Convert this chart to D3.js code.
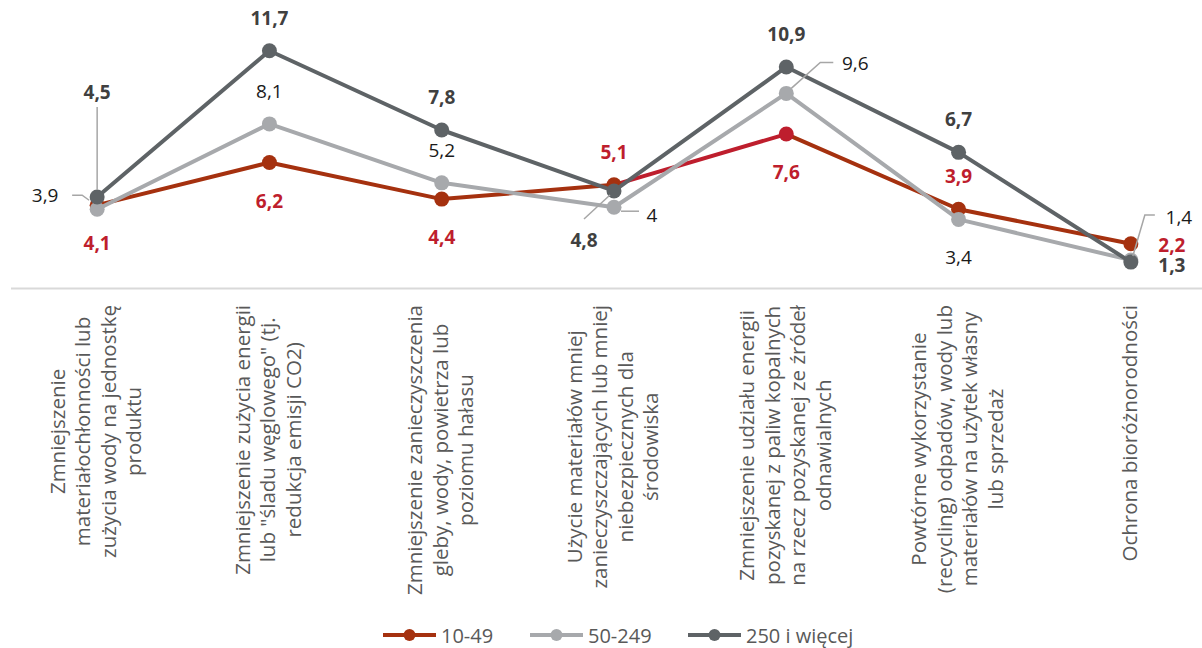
<!DOCTYPE html>
<html>
<head>
<meta charset="utf-8">
<script src="https://cdn.jsdelivr.net/npm/d3@7"></script>
<style>
  body { margin: 0; background: #fff; }
  svg { display: block; font-family: "Open Sans", sans-serif; }
</style>
</head>
<body>
<script>
var width = 1202, height = 648;

// categories (each label already split into its lines)
var categories = [
  ["Zmniejszenie", "materiałochłonności lub", "zużycia wody na jednostkę", "produktu"],
  ["Zmniejszenie zużycia energii", "lub \"śladu węglowego\" (tj.", "redukcja emisji CO2)"],
  ["Zmniejszenie zanieczyszczenia", "gleby, wody, powietrza lub", "poziomu hałasu"],
  ["Użycie materiałów mniej", "zanieczyszczających lub mniej", "niebezpiecznych dla", "środowiska"],
  ["Zmniejszenie udziału energii", "pozyskanej z paliw kopalnych", "na rzecz pozyskanej ze źródeł", "odnawialnych"],
  ["Powtórne wykorzystanie", "(recycling) odpadów, wody lub", "materiałów na użytek własny", "lub sprzedaż"],
  ["Ochrona bioróżnorodności"]
];
var seriesNames = ["10-49", "50-249", "250 i więcej"];
var small  = [4.1, 6.2, 4.4, 5.1, 7.6, 3.9, 2.2];
var medium = [3.9, 8.1, 5.2, 4, 9.6, 3.4, 1.4];
var large  = [4.5, 11.7, 7.8, 4.8, 10.9, 6.7, 1.3];
var seriesValues = [small, medium, large];

// styles
var lineColors  = ["#a5310f", "#a7a9ac", "#5e6366"];
var labelColors = ["#be1e2d", "#1a1a1a", "#404040"];
var labelWeights = ["bold", "normal", "bold"];
var highlightColor = "#be1e2d";   // one point of 10-49 is drawn in crimson
var highlight = {s: 0, i: 4};

// where each data label sits
var placement = [
  ["below", "below", "below", "above", "below", "above", "right"],
  ["custom", "above", "above", "custom", "custom", "below", "custom"],
  ["custom", "above", "above", "custom", "above", "above", "right"]
];
var custom = {
  "1-0": {dx: -52, dy: -14, leader: [[-25, -14], [-15, -14], [-8, -9]]},
  "2-0": {dx: 0, dy: -105, leader: [[0, -90], [0, -7]]},
  "2-3": {dx: -30, dy: 49, leader: [[-30, 28], [-4, 4]]},
  "1-3": {dx: 38, dy: 8, leader: [[7, 4], [25, 4]]},
  "1-4": {dx: 69, dy: -30, leader: [[47, -31], [34, -31], [5, -5]]},
  "1-6": {dx: 48, dy: -43, leader: [[24, -45], [14, -45], [2, -4]]}
};

var svg = d3.select("body").append("svg")
  .attr("width", width)
  .attr("height", height);

var x = d3.scaleBand()
  .domain(d3.range(categories.length))
  .range([11, 1217]);
var bw = x.bandwidth();
var cx = function(i) { return x(i) + bw / 2; };

var y = d3.scaleLinear()
  .domain([0, 14])
  .range([288.5, 4]);

// category axis line
svg.append("line")
  .attr("x1", 11).attr("x2", width)
  .attr("y1", y(0)).attr("y2", y(0))
  .attr("stroke", "#d9d9d9")
  .attr("stroke-width", 2);

// category labels, rotated, lines centred inside the block
var catG = svg.append("g").attr("class", "cat-labels");
categories.forEach(function(lines, i) {
  var g = catG.append("g");
  var texts = g.selectAll("text")
    .data(lines)
    .enter().append("text")
    .attr("font-size", 20.5)
    .attr("fill", "#595959")
    .attr("text-anchor", "middle")
    .attr("dominant-baseline", "central")
    .text(function(d) { return d; });
  var maxLen = d3.max(texts.nodes(), function(n) { return n.getComputedTextLength(); });
  var top = 305, cy = top + maxLen / 2, step = 25.5;
  texts.attr("transform", function(d, j) {
    var lx = cx(i) - 2 + (j - (lines.length - 1) / 2) * step;
    return "translate(" + lx + "," + cy + ") rotate(-90)";
  });
});

// series lines + markers
seriesValues.forEach(function(vals, s) {
  var g = svg.append("g").attr("class", "series");
  vals.forEach(function(v, i) {
    if (i === 0) return;
    var col = (s === highlight.s && i === highlight.i) ? highlightColor : lineColors[s];
    g.append("line")
      .attr("x1", cx(i - 1)).attr("y1", y(vals[i - 1]))
      .attr("x2", cx(i)).attr("y2", y(v))
      .attr("stroke", col)
      .attr("stroke-width", 4)
      .attr("stroke-linecap", "round");
  });
  g.selectAll("circle")
    .data(vals)
    .enter().append("circle")
    .attr("cx", function(d, i) { return cx(i); })
    .attr("cy", function(d) { return y(d); })
    .attr("r", 7.5)
    .attr("fill", function(d, i) {
      return (s === highlight.s && i === highlight.i) ? highlightColor : lineColors[s];
    });
});

// data labels
var fmt = function(v) { return String(v).replace(".", ","); };
var labG = svg.append("g").attr("class", "data-labels");
seriesValues.forEach(function(vals, s) {
  vals.forEach(function(v, i) {
    var px = cx(i), py = y(v), dx = 0, dy = 0;
    var p = placement[s][i];
    if (p === "above") dy = -33;
    else if (p === "below") dy = 38;
    else if (p === "right") { dx = 41; dy = s === 0 ? 1 : 3; }
    else {
      var c = custom[s + "-" + i];
      dx = c.dx; dy = c.dy;
      labG.append("path")
        .attr("d", d3.line()(c.leader.map(function(q) { return [px + q[0], py + q[1]]; })))
        .attr("fill", "none")
        .attr("stroke", "#a6a6a6")
        .attr("stroke-width", 1.5);
    }
    labG.append("text")
      .attr("x", px + dx)
      .attr("y", py + dy)
      .attr("text-anchor", "middle")
      .attr("dominant-baseline", "central")
      .attr("font-size", 19)
      .attr("font-weight", labelWeights[s])
      .attr("fill", labelColors[s])
      .text(fmt(v));
  });
});

// legend
var legendX = [383, 530, 688];
var legend = svg.append("g").attr("class", "legend");
seriesNames.forEach(function(name, s) {
  var g = legend.append("g").attr("transform", "translate(" + legendX[s] + ",635)");
  g.append("line")
    .attr("x1", 0).attr("x2", 53)
    .attr("stroke", lineColors[s])
    .attr("stroke-width", 4);
  g.append("circle")
    .attr("cx", 26.5).attr("r", 6)
    .attr("fill", lineColors[s]);
  g.append("text")
    .attr("x", 58)
    .attr("dominant-baseline", "central")
    .attr("font-size", 20)
    .attr("fill", "#595959")
    .text(name);
});
</script>
</body>
</html>
